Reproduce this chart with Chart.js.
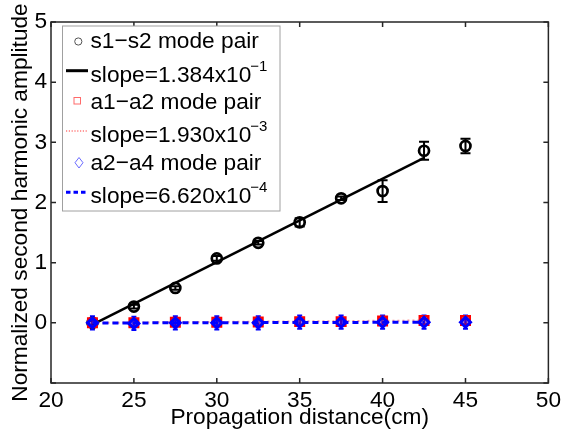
<!DOCTYPE html>
<html><head><meta charset="utf-8">
<script src="https://cdn.jsdelivr.net/npm/chart.js@4.4.1/dist/chart.umd.min.js"></script>
<style>html,body{margin:0;padding:0;background:#fff}</style>
</head><body>
<canvas id="c" width="565" height="431"></canvas>
<script>
// ---- data ----
const distances   = [22.5, 25, 27.5, 30, 32.5, 35, 37.5, 40, 42.5, 45];
const s1s2Values  = [0.00, 0.27, 0.58, 1.07, 1.33, 1.67, 2.07, 2.19, 2.86, 2.94];
const s1s2Errors  = [0.03, 0.03, 0.03, 0.04, 0.03, 0.07, 0.03, 0.18, 0.15, 0.12];
const a1a2Values  = [0.00, 0.00, 0.01, 0.01, 0.015, 0.02, 0.02, 0.03, 0.04, 0.04];
const a1a2Errors  = [0.07, 0.07, 0.07, 0.07, 0.07, 0.07, 0.07, 0.07, 0.07, 0.07];
const a2a4Values  = [0.00, -0.01, 0.00, 0.00, 0.00, 0.01, 0.01, 0.01, 0.01, 0.01];
const a2a4Errors  = [0.11, 0.11, 0.11, 0.11, 0.11, 0.11, 0.11, 0.11, 0.11, 0.11];
const fitX        = [22.5, 42.5];
const s1s2Fit     = [-0.03, 2.74];
const a1a2Fit     = [0.00, 0.039];
const a2a4Fit     = [-0.003, 0.010];
const xTicks      = [20, 25, 30, 35, 40, 45, 50];
const yTicks      = [-1, 0, 1, 2, 3, 4, 5];
const yTickLabels = ['', '0', '1', '2', '3', '4', '5'];
const legendMain  = ['s1\u2212s2 mode pair', 'slope=1.384x10', 'a1\u2212a2 mode pair', 'slope=1.930x10', 'a2\u2212a4 mode pair', 'slope=6.620x10'];
const legendSup   = ['', '\u22121', '', '\u22123', '', '\u22124'];
const xTitle = 'Propagation distance(cm)';
const yTitle = 'Normalized second harmonic amplitude';

const FONT = '"Liberation Sans", Arial, Helvetica, sans-serif';
const FS = 22.7;
const pts = (xs, ys) => xs.map((x, i) => ({x, y: ys[i]}));

const errorBars = {
  id: 'errorBars',
  beforeDatasetsDraw(chart) {
    const {ctx, scales: {x, y}} = chart;
    const sets = [
      {v: s1s2Values, e: s1s2Errors, c: '#000', w: 2, cap: 5},
      {v: a1a2Values, e: a1a2Errors, c: '#ff0000', w: 2, cap: 2},
      {v: a2a4Values, e: a2a4Errors, c: '#0000ff', w: 2, cap: 2.5}
    ];
    ctx.save();
    sets.forEach(s => {
      ctx.strokeStyle = s.c; ctx.lineWidth = s.w;
      distances.forEach((d, i) => {
        const px = x.getPixelForValue(d);
        const y1 = y.getPixelForValue(s.v[i] + s.e[i]);
        const y2 = y.getPixelForValue(s.v[i] - s.e[i]);
        ctx.beginPath();
        ctx.moveTo(px, y1); ctx.lineTo(px, y2);
        ctx.moveTo(px - s.cap, y1); ctx.lineTo(px + s.cap, y1);
        ctx.moveTo(px - s.cap, y2); ctx.lineTo(px + s.cap, y2);
        ctx.stroke();
      });
    });
    ctx.restore();
  }
};

const frame = {
  id: 'frame',
  afterDatasetsDraw(chart) {
    const {ctx, chartArea: a, scales: {x, y}} = chart;
    ctx.save();
    ctx.strokeStyle = '#262626'; ctx.lineWidth = 1.5;
    ctx.strokeRect(a.left, a.top, a.right - a.left, a.bottom - a.top);
    const L = 5;
    ctx.beginPath();
    xTicks.forEach(v => {
      const p = x.getPixelForValue(v);
      ctx.moveTo(p, a.bottom); ctx.lineTo(p, a.bottom - L);
      ctx.moveTo(p, a.top); ctx.lineTo(p, a.top + L);
    });
    yTicks.forEach(v => {
      const p = y.getPixelForValue(v);
      ctx.moveTo(a.left, p); ctx.lineTo(a.left + L, p);
      ctx.moveTo(a.right, p); ctx.lineTo(a.right - L, p);
    });
    ctx.stroke();
    ctx.restore();
  }
};

const legend = {
  id: 'customLegend',
  afterDraw(chart) {
    const {ctx} = chart;
    ctx.save();
    const bx = 62.5, by = 26, bw = 217.5, bh = 185;
    ctx.fillStyle = '#fff';
    ctx.fillRect(bx, by, bw, bh);
    ctx.strokeStyle = '#a0a0a0'; ctx.lineWidth = 1;
    ctx.strokeRect(bx, by, bw, bh);
    const baselines = [48, 82, 109, 142, 170, 203];
    const tx = 90.5;
    ctx.fillStyle = '#000';
    ctx.textBaseline = 'alphabetic';
    ctx.textAlign = 'left';
    legendMain.forEach((t, i) => {
      ctx.font = FS + 'px ' + FONT;
      ctx.fillText(t, tx, baselines[i]);
      if (legendSup[i]) {
        const w = ctx.measureText(t).width;
        ctx.font = '15px ' + FONT;
        ctx.fillText(legendSup[i], tx + w - 1, baselines[i] - 11);
      }
    });
    // symbols
    ctx.lineWidth = 1;
    ctx.strokeStyle = '#555';
    ctx.beginPath(); ctx.arc(78.3, 41.5, 3.6, 0, Math.PI * 2); ctx.stroke();
    ctx.strokeStyle = '#ff6a6a';
    ctx.strokeRect(74, 97.5, 6.5, 6.5);
    ctx.strokeStyle = '#6a6aff';
    ctx.beginPath(); ctx.moveTo(79, 157.5); ctx.lineTo(83, 162.7); ctx.lineTo(79, 168); ctx.lineTo(75, 162.7); ctx.closePath(); ctx.stroke();
    ctx.strokeStyle = '#000'; ctx.lineWidth = 3;
    ctx.beginPath(); ctx.moveTo(66, 70.7); ctx.lineTo(88, 70.7); ctx.stroke();
    ctx.strokeStyle = '#ff9a9a'; ctx.lineWidth = 2; ctx.setLineDash([1.2, 1.6]);
    ctx.beginPath(); ctx.moveTo(66, 131); ctx.lineTo(88, 131); ctx.stroke();
    ctx.strokeStyle = '#0000ff'; ctx.lineWidth = 3; ctx.setLineDash([4.5, 3]);
    ctx.beginPath(); ctx.moveTo(66, 192.3); ctx.lineTo(88, 192.3); ctx.stroke();
    ctx.restore();
  }
};

new Chart(document.getElementById('c'), {
  type: 'scatter',
  data: {
    datasets: [
      {label: legendMain[4], data: pts(distances, a2a4Values), pointStyle: 'rectRot', pointRadius: 5,
       borderColor: '#0000ff', backgroundColor: 'rgba(0,0,255,0.35)', borderWidth: 3, showLine: false, order: 0},
      {label: legendMain[5], data: pts(fitX, a2a4Fit), showLine: true, pointRadius: 0,
       borderColor: '#0000ff', borderWidth: 3, borderDash: [6, 4], order: 1},
      {label: legendMain[2], data: pts(distances, a1a2Values), pointStyle: 'rect', pointRadius: 6,
       borderColor: '#ff0000', backgroundColor: 'rgba(255,0,0,0.3)', borderWidth: 2.5, showLine: false, order: 2},
      {label: legendMain[3], data: pts(fitX, a1a2Fit), showLine: true, pointRadius: 0,
       borderColor: '#ff9a9a', borderWidth: 2, borderDash: [2, 3], order: 3},
      {label: legendMain[0], data: pts(distances, s1s2Values), pointStyle: 'circle', pointRadius: 5,
       borderColor: '#000', backgroundColor: 'rgba(0,0,0,0)', borderWidth: 2.7, showLine: false, order: 4},
      {label: legendMain[1], data: pts(fitX, s1s2Fit), showLine: true, pointRadius: 0,
       borderColor: '#000', borderWidth: 2.5, order: 5}
    ]
  },
  options: {
    responsive: false,
    animation: false,
    devicePixelRatio: 1,
    layout: {padding: {top: 22, right: 14, left: 0, bottom: 0}},
    plugins: {legend: {display: false}, tooltip: {enabled: false}},
    scales: {
      x: {
        type: 'linear', min: 20, max: 50,
        afterBuildTicks: s => { s.ticks = xTicks.map(v => ({value: v})); },
        afterFit: s => { s.height = 48; },
        grid: {display: false, drawTicks: false},
        border: {display: false},
        ticks: {color: '#000', font: {family: FONT, size: FS}, padding: 4, maxRotation: 0,
                callback: v => String(v)},
        title: {display: true, text: xTitle, color: '#000', font: {family: FONT, size: FS}, padding: {top: 0, bottom: 0}}
      },
      y: {
        type: 'linear', min: -1, max: 5,
        afterBuildTicks: s => { s.ticks = yTicks.map(v => ({value: v})); },
        afterFit: s => { s.width = 51; },
        grid: {display: false, drawTicks: false},
        border: {display: false},
        ticks: {color: '#000', font: {family: FONT, size: FS}, padding: 4,
                callback: (v, i) => yTickLabels[yTicks.indexOf(v)]},
        title: {display: true, text: yTitle, color: '#000', font: {family: FONT, size: FS}, padding: {top: 7, bottom: 0}}
      }
    }
  },
  plugins: [errorBars, frame, legend]
});
</script>
</body></html>
